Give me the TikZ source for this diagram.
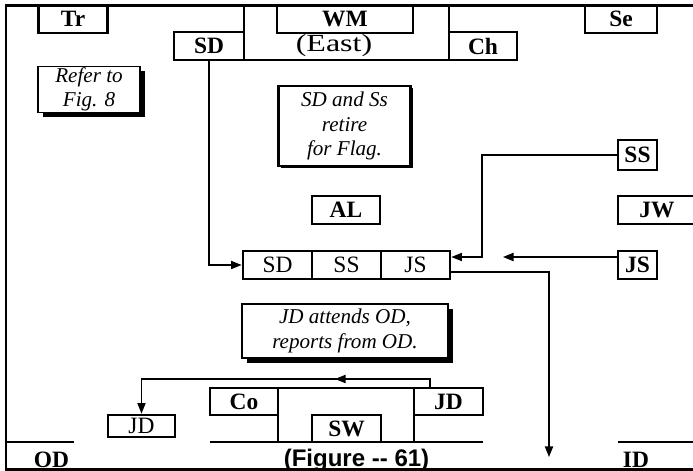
\documentclass[tikz,border=0pt]{standalone}
\usepackage{fontspec}
\setmainfont{Liberation Serif}
\newfontfamily\figfont{Liberation Sans}
\newfontfamily\eastfont[FakeStretch=1.3]{Liberation Serif}
\usetikzlibrary{arrows.meta,calc,shadows}
\newcommand\figsize{\fontsize{18}{21}\selectfont}
\newcommand\tagsize{\fontsize{20}{24}\selectfont}

\begin{document}
\begin{tikzpicture}[x=0.3mm,y=-0.3mm,>={Triangle[length=9pt,width=7pt]},font=\figsize,
 tag/.style={draw,line width=2.4pt,font=\tagsize\bfseries,inner sep=0pt,minimum width=20.7mm,minimum height=8.4mm},
 cell/.style={draw,line width=2.4pt,font=\tagsize,inner sep=0pt,minimum width=20.7mm,minimum height=8.4mm},
 note/.style={draw,line width=0.9pt,fill=white,align=center,font=\figsize\itshape,inner sep=1pt,
   drop shadow={opacity=1,fill=black,shadow xshift=4pt,shadow yshift=-4pt}},
 board/.style={draw,line width=2.4pt,fill=white,align=center,font=\figsize\itshape,inner sep=1pt,
   drop shadow={opacity=1,fill=black,shadow xshift=2pt,shadow yshift=-2pt}},
 wall/.style={line width=2.4pt},
 link/.style={line width=1.1pt}]
\useasboundingbox (0,0) rectangle (693,471);
% frame
\draw[wall] (693,5.5) -- (6,5.5) -- (6,469.5) -- (693,469.5);
% top row
\node[tag] (tr) at (73,19) {Tr};
\node[tag,minimum width=40.8mm] (wm) at (345,19) {WM};
\node[tag,minimum width=21.6mm] (se) at (621,19) {Se};
\node[tag,minimum width=21mm] (sdtop) at (209,46) {SD};
\node[font=\fontsize{21}{24}\eastfont] (east) at (334,46) {(East)};
\node[tag,minimum width=20.4mm] (ch) at (483,46) {Ch};
\draw[wall] (244,5.5) -- (244,60) -- (449,60) -- (449,5.5);
% notes
\node[note,minimum width=30.6mm,minimum height=13.5mm] (refer) at (89,89.5) {Refer to\\Fig. 8};
\node[board,minimum width=39.6mm,minimum height=24mm] (retire) at (344.5,126) {SD and Ss\\retire\\for Flag.};
\node[note,minimum width=61.8mm,minimum height=16.2mm] (attend) at (345,331) {JD attends OD,\\reports from OD.};
% middle
\node[tag,minimum width=20.4mm] (al) at (346,210) {AL};
\node[tag,minimum width=11.7mm,minimum height=9mm] (ssr) at (637.5,155) {SS};
\node[font=\tagsize\bfseries] (jw) at (657,210) {JW};
\draw[wall] (693,196) -- (618,196) -- (618,224) -- (693,224);
\node[tag,minimum width=11.7mm] (jsr) at (637.5,265) {JS};
\node[cell] (rsd) at (277.5,265) {SD};
\node[cell] (rss) at (346.5,265) {SS};
\node[cell] (rjs) at (415.5,265) {JS};
% bottom
\node[tag,minimum width=20.4mm,minimum height=8.1mm] (co) at (244,401.5) {Co};
\node[tag,minimum height=8.1mm] (jdr) at (448.5,401.5) {JD};
\node[tag,minimum height=8.1mm] (sw) at (346.5,428.5) {SW};
\node[cell,minimum width=20.1mm,minimum height=6.6mm] (jdl) at (141.5,426) {JD};
\draw[wall] (278,388) -- (414,388);
\draw[wall] (278,388) -- (278,442);
\draw[wall] (414,388) -- (414,442);
\draw[wall] (210,442) -- (483,442);
\draw[wall] (6,442) -- (74,442);
\draw[wall] (618,442) -- (693,442);
\node[font=\tagsize\bfseries] (od) at (51.5,460) {OD};
\node[font=\tagsize\bfseries] (id) at (636,460) {ID};
\node[font=\fontsize{20.5}{24}\figfont\bfseries] (fig) at (356.5,460) {(Figure -- 61)};
% connectors
\coordinate (jsend) at (503,257);
\coordinate (downend) at (549,457);
\coordinate (turn) at (430,379);
\draw[link,->] (sdtop.south) |- (rsd.west);
\draw[link,->] (ssr.west) -| (482,257) -- ($(rjs.east)+(0,-8)$);
\draw[link,->] (jsr.west |- jsend) -- (jsend);
\draw[link,->] ($(rjs.east)+(0,7)$) -| (downend);
\draw[link,->] (jdr.north -| turn) -- (turn) -| (jdl.north);
\draw[link,->] (turn) -- (335,379);
\end{tikzpicture}
\end{document}
